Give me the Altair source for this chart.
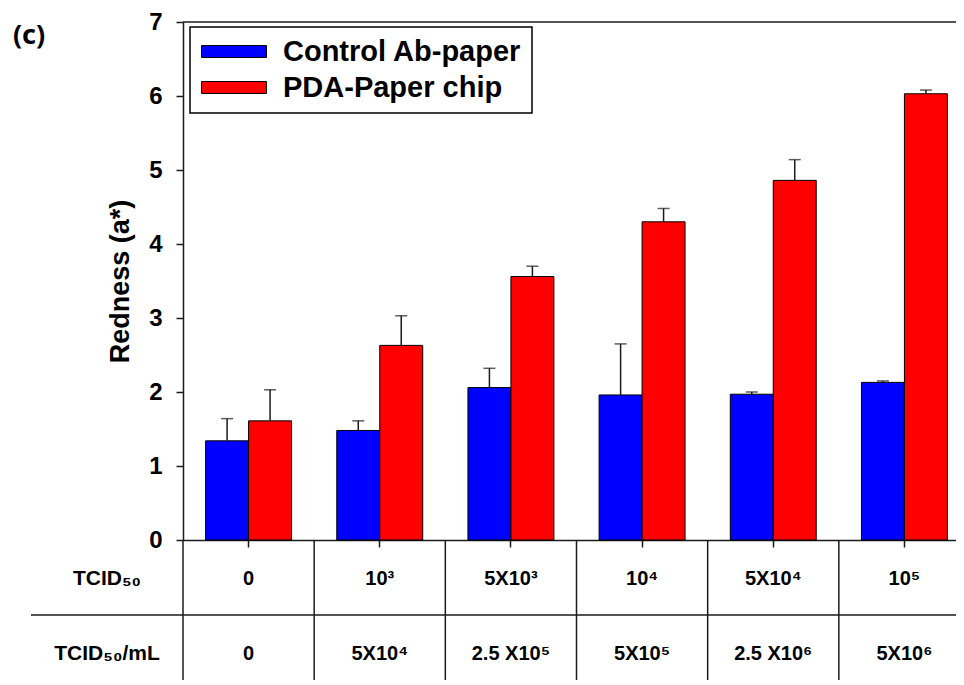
import altair as alt
import pandas as pd

# ---- data ----
tcid = ["0", "10³", "5X10³", "10⁴", "5X10⁴", "10⁵"]
tcid_ml = ["0", "5X10⁴", "2.5 X10⁵", "5X10⁵", "2.5 X10⁶", "5X10⁶"]
row_labels = ["TCID₅₀", "TCID₅₀/mL"]
series = ["Control Ab-paper", "PDA-Paper chip"]
control_mean = [1.34, 1.48, 2.06, 1.96, 1.97, 2.13]
control_err = [0.30, 0.13, 0.26, 0.69, 0.03, 0.02]
pda_mean = [1.61, 2.63, 3.56, 4.30, 4.86, 6.03]
pda_err = [0.42, 0.40, 0.14, 0.18, 0.28, 0.05]
colors = ["#0000FF", "#FF0000"]
panel_label = "(c)"
y_title = "Redness (a*)"

rows = []
for i, t in enumerate(tcid):
    rows.append(dict(tcid=t, series=series[0], mean=control_mean[i], err=control_err[i]))
    rows.append(dict(tcid=t, series=series[1], mean=pda_mean[i], err=pda_err[i]))
bars_df = pd.DataFrame(rows)
table_df = pd.DataFrame({"tcid": tcid, "ml": tcid_ml})
one_df = pd.DataFrame({"k": [0]})

W, H = 773, 518
FONT = "Liberation Sans"
INK = "#1a1a1a"


def xenc(**kw):
    return alt.X(
        "tcid:N",
        scale=alt.Scale(domain=tcid, range=[0, 787], paddingInner=0, paddingOuter=0),
        axis=alt.Axis(labels=False, title=None, ticks=True, tickSize=7, domain=True),
        **kw,
    )


def yenc(field):
    return alt.Y(
        field,
        scale=alt.Scale(domain=[0, 7], nice=False, zero=True),
        axis=alt.Axis(values=list(range(8)), title=y_title, tickSize=7, grid=False,
                      labelPadding=14, titlePadding=14),
    )


xoff = alt.XOffset("series:N", scale=alt.Scale(domain=series, paddingInner=0, paddingOuter=0.526))

base = alt.Chart(bars_df).transform_calculate(top="datum.mean + datum.err")

bars = base.mark_bar(stroke="black", strokeWidth=1).encode(
    x=xenc(),
    xOffset=xoff,
    y=yenc("mean:Q"),
    color=alt.Color(
        "series:N",
        scale=alt.Scale(domain=series, range=colors),
        legend=alt.Legend(
            title=None, orient="none", legendX=7, legendY=5,
            symbolType="M-1,-0.46H4V0.46H-1Z", symbolSize=676,
            symbolStrokeColor="black", symbolStrokeWidth=1, symbolOpacity=1,
            labelFont=FONT, labelFontSize=29, labelFontWeight="bold", labelColor="black",
            labelOffset=54, labelLimit=500, padding=10, rowPadding=6,
            strokeColor="black", fillColor="white",
        ),
    ),
)

err_rule = base.mark_rule(color=INK, strokeWidth=1.5).encode(
    x=xenc(), xOffset=xoff, y=yenc("mean:Q"), y2="top:Q"
)
err_cap = base.mark_tick(color=INK, thickness=1.5, size=12, orient="horizontal").encode(
    x=xenc(), xOffset=xoff, y=yenc("top:Q")
)

table_v = alt.Chart(table_df).mark_rule(color=INK, strokeWidth=1.5).encode(
    x=xenc(bandPosition=0), y=alt.value(H), y2=alt.value(H + 140)
)
table_h = alt.Chart(one_df).mark_rule(color=INK, strokeWidth=1.5).encode(
    x=alt.value(-152), x2=alt.value(W), y=alt.value(593)
)
top_line = alt.Chart(one_df).mark_rule(color=INK, strokeWidth=1.5).encode(
    x=alt.value(0), x2=alt.value(W), y=alt.value(0)
)

txt = dict(font=FONT, fontWeight="bold", fontSize=20, color="black", baseline="middle", align="center")
row1 = alt.Chart(table_df).mark_text(**txt).encode(x=xenc(), y=alt.value(557), text="tcid:N")
row2 = alt.Chart(table_df).mark_text(**txt).encode(x=xenc(), y=alt.value(632), text="ml:N")
lab_txt = dict(txt, fontSize=21)
lab1 = alt.Chart(pd.DataFrame({"t": [row_labels[0]]})).mark_text(**lab_txt).encode(
    x=alt.value(-76), y=alt.value(557), text="t:N")
lab2 = alt.Chart(pd.DataFrame({"t": [row_labels[1]]})).mark_text(**lab_txt).encode(
    x=alt.value(-76), y=alt.value(632), text="t:N")
panel = alt.Chart(pd.DataFrame({"t": [panel_label]})).mark_text(
    font="Noto Sans", fontWeight="bold", fontSize=27, color="black", baseline="middle", align="center"
).encode(x=alt.value(-154), y=alt.value(14), text="t:N")

chart = alt.layer(
    bars, err_rule, err_cap, table_v, table_h, top_line, row1, row2, lab1, lab2, panel
).properties(
    width=W, height=H,
    background="white",
    autosize=alt.AutoSizeParams(type="none"),
    padding={"left": 175, "top": 14, "right": 0, "bottom": 140},
).configure_view(stroke=None).configure_axis(
    domainColor=INK, tickColor=INK, domainWidth=1.5, tickWidth=1.5,
    labelFont=FONT, labelFontSize=24, labelFontWeight="bold", labelColor="black",
    titleFont=FONT, titleFontSize=27, titleFontWeight="bold", titleColor="black",
).configure_legend(strokeWidth=1.5)

chart.save("out.html", embed_options={"renderer": "svg", "actions": False})
